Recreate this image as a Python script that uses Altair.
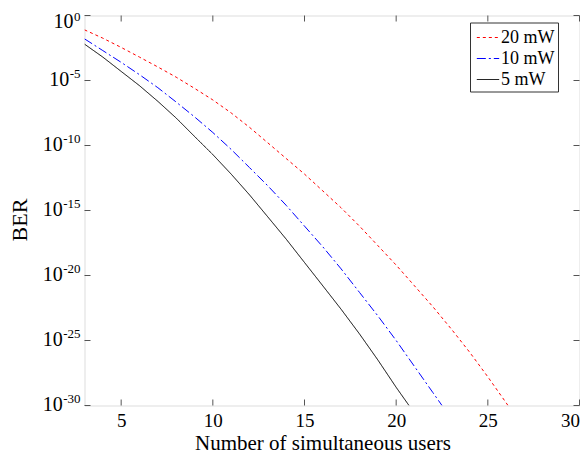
import altair as alt
import pandas as pd

# ---- data ----
series_names = ["20 mW", "10 mW", "5 mW"]
series_colors = ["#ff0000", "#0000ff", "#000000"]
series_dashes = [[3, 3], [9, 3, 2, 3], [1, 0]]

users_20 = [3, 4, 5, 6, 7, 8, 9, 10, 11, 12, 13, 14, 15, 16, 17, 18, 19, 20, 21, 22, 23, 24, 25, 26, 26.1]
ber_20 = [7.9e-2, 1.8e-2, 3.5e-3, 6.3e-4, 1.1e-4, 1.8e-5, 2.5e-6, 3.2e-7, 3.2e-8, 2.5e-9,
          1.6e-10, 1.0e-11, 6.3e-13, 3.2e-14, 1.6e-15, 6.3e-17, 2.0e-18, 6.3e-20, 1.6e-21,
          4.0e-23, 7.9e-25, 1.3e-26, 1.6e-28, 1.6e-30, 1.0e-30]

users_10 = [3, 4, 5, 6, 7, 8, 9, 10, 11, 12, 13, 14, 15, 16, 17, 18, 19, 20, 21, 22, 22.5]
ber_10 = [1.6e-2, 2.0e-3, 2.5e-4, 2.8e-5, 2.8e-6, 2.2e-7, 1.6e-8, 1.0e-9, 5.0e-11, 2.0e-12,
          7.9e-14, 2.5e-15, 6.3e-17, 1.6e-18, 3.2e-20, 5.0e-22, 7.9e-24, 1.0e-25, 1.0e-27,
          1.0e-29, 1.0e-30]

users_5 = [3, 4, 5, 6, 7, 8, 9, 10, 11, 12, 13, 14, 15, 16, 17, 18, 19, 20, 20.7]
ber_5 = [6.3e-3, 6.3e-4, 5.0e-5, 4.0e-6, 2.5e-7, 1.3e-8, 5.0e-10, 2.0e-11, 6.3e-13, 1.6e-14,
         3.2e-16, 6.3e-18, 1.0e-19, 1.6e-21, 2.5e-23, 3.2e-25, 3.2e-27, 2.5e-29, 1.0e-30]

x_ticks = [5, 10, 15, 20, 25, 30]
y_ticks = [1, 1e-5, 1e-10, 1e-15, 1e-20, 1e-25, 1e-30]
y_tick_base = "10"
y_tick_exponents = ["0", "-5", "-10", "-15", "-20", "-25", "-30"]

x_title = "Number of simultaneous users"
y_title = "BER"

# ---- build tables ----
rows = []
for name, xs, ys in zip(series_names, [users_20, users_10, users_5], [ber_20, ber_10, ber_5]):
    for xv, yv in zip(xs, ys):
        rows.append({"users": xv, "ber": yv, "series": name})
df = pd.DataFrame(rows)

W, H = 495, 390
FONT = "Liberation Serif"
AX = "#555555"

x_scale = alt.Scale(domain=[3, 30], nice=False, zero=False)
y_scale = alt.Scale(type="log", domain=[1e-30, 1], nice=False)

x_axis = alt.Axis(values=x_ticks, title=x_title, grid=False, domain=False, ticks=False,
                  labelFont=FONT, labelFontSize=19, labelColor="black", labelPadding=6,
                  titleFont=FONT, titleFontSize=21, titleFontWeight="normal",
                  titleColor="black", titleX=238, titleY=44, titleAlign="center",
                  titleBaseline="alphabetic")
y_axis = alt.Axis(values=y_ticks, labels=False, title=y_title, grid=False,
                  domain=False, ticks=False,
                  titleFont=FONT, titleFontSize=22, titleFontWeight="normal",
                  titleColor="black", titleX=-65.5, titleY=204, titleAlign="center",
                  titleBaseline="middle", titleAngle=270)

legend = alt.Legend(
    title=None, orient="none", legendX=385.5, legendY=7,
    strokeColor="#333333", fillColor="white", padding=3,
    symbolType="stroke", symbolSize=500, symbolStrokeWidth=1, symbolOffset=3,
    labelFont=FONT, labelFontSize=18, labelColor="black", labelOffset=1,
    rowPadding=0, labelLimit=200,
)

lines = alt.Chart(df).mark_line(strokeWidth=1, clip=True).encode(
    x=alt.X("users:Q", scale=x_scale, axis=x_axis),
    y=alt.Y("ber:Q", scale=y_scale, axis=y_axis),
    color=alt.Color("series:N", scale=alt.Scale(domain=series_names, range=series_colors),
                    legend=legend),
    strokeDash=alt.StrokeDash("series:N", scale=alt.Scale(domain=series_names, range=series_dashes),
                              legend=legend),
)

xt = pd.DataFrame({"users": x_ticks})
yt = pd.DataFrame({"ber": y_ticks})

x_ticks_bottom = alt.Chart(xt).mark_rule(color=AX, strokeWidth=1).encode(
    x=alt.X("users:Q", scale=x_scale, axis=x_axis), y=alt.value(H), y2=alt.value(H - 6))
x_ticks_top = alt.Chart(xt).mark_rule(color=AX, strokeWidth=1).encode(
    x=alt.X("users:Q", scale=x_scale, axis=x_axis), y=alt.value(0), y2=alt.value(6))
y_ticks_left = alt.Chart(yt).mark_rule(color=AX, strokeWidth=1).encode(
    y=alt.Y("ber:Q", scale=y_scale, axis=y_axis), x=alt.value(0), x2=alt.value(6))
y_ticks_right = alt.Chart(yt).mark_rule(color=AX, strokeWidth=1).encode(
    y=alt.Y("ber:Q", scale=y_scale, axis=y_axis), x=alt.value(W - 6), x2=alt.value(W))

# y tick labels: "10" with a superscript exponent, right aligned left of the axis
lab_df = pd.DataFrame({"ber": y_ticks, "exp": y_tick_exponents})
lab_base = alt.Chart(lab_df).transform_calculate(
    base=f"'{y_tick_base}'",
    bx="-4.5 - (length(datum.exp) - (indexof(datum.exp, '-') >= 0 ? 1 : 0)) * 6.5"
       " - (indexof(datum.exp, '-') >= 0 ? 4.33 : 0)",
)


def base_layer(cond, dy):
    return lab_base.transform_filter(cond).mark_text(
        align="right", baseline="middle", dy=dy, font=FONT, fontSize=20, color="black"
    ).encode(x=alt.X("bx:Q", scale=None),
             y=alt.Y("ber:Q", scale=y_scale, axis=y_axis),
             text=alt.Text("base:N"))


def exp_layer(cond, dy):
    return lab_base.transform_filter(cond).mark_text(
        align="right", baseline="middle", dy=dy, font=FONT, fontSize=13, color="black"
    ).encode(x=alt.value(-4),
             y=alt.Y("ber:Q", scale=y_scale, axis=y_axis),
             text=alt.Text("exp:N"))


labels = [
    base_layer("datum.ber < 0.5", -1), exp_layer("datum.ber < 0.5", -7),
    base_layer("datum.ber >= 0.5", 6), exp_layer("datum.ber >= 0.5", 1),
]

chart = alt.layer(lines, x_ticks_bottom, x_ticks_top, y_ticks_left, y_ticks_right, *labels).properties(
    width=W, height=H,
    autosize=alt.AutoSizeParams(type="none"),
    padding={"left": 76.5, "top": 7.5, "right": 0.5, "bottom": 49.5},
).configure_view(stroke=AX, strokeWidth=1.3).configure(background="white")

chart.save("out.html", embed_options={"renderer": "svg", "actions": False})
